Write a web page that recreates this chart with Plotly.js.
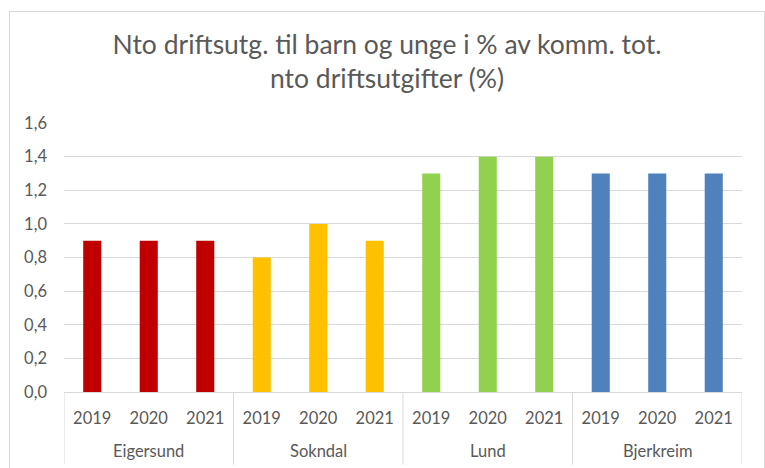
<!DOCTYPE html>
<html>
<head>
<meta charset="utf-8">
<script src="https://cdn.plot.ly/plotly-3.0.1.min.js"></script>
<style>
html,body{margin:0;padding:0;background:#fff;}
#wrap{position:relative;width:765px;height:468px;overflow:hidden;}
#chart{width:765px;height:468px;}
#frame{position:absolute;left:9px;top:11px;width:754px;height:470px;border:1px solid #d9d9d9;pointer-events:none;}
</style>
</head>
<body>
<div id="wrap"><div id="chart"></div><div id="frame"></div></div>
<script>
const municipalities = ["Eigersund","Sokndal","Lund","Bjerkreim"];
const years = ["2019","2020","2021"];
const eigersund = [0.9, 0.9, 0.9];
const sokndal = [0.8, 1.0, 0.9];
const lund = [1.3, 1.4, 1.4];
const bjerkreim = [1.3, 1.3, 1.3];
const groupColors = ["#C00000","#FFC000","#92D050","#4F81BD"];
const yTicks = [0,0.2,0.4,0.6,0.8,1.0,1.2,1.4,1.6];

const series = [eigersund, sokndal, lund, bjerkreim];
const font = "Lato, 'Open Sans', 'Liberation Sans', sans-serif";
const grey = "#595959";
const lineCol = "#d9d9d9";

const data = [];
const tickvals = [], ticktext = [];
const annotations = [], shapes = [];
series.forEach((vals, i) => {
  const xs = vals.map((v, j) => i * years.length + j);
  xs.forEach((x, j) => { tickvals.push(x); ticktext.push(years[j]); });
  data.push({
    type: "bar", x: xs, y: vals, name: municipalities[i],
    marker: {color: groupColors[i], line: {width: 0}},
    width: 0.32, hoverinfo: "y"
  });
  annotations.push({
    x: i * years.length + (years.length - 1) / 2, xref: "x",
    y: -0.22, yref: "paper",
    text: municipalities[i], showarrow: false,
    font: {family: font, size: 16.5, color: grey},
    xanchor: "center", yanchor: "middle"
  });
});
for (let k = 0; k <= municipalities.length; k++) {
  shapes.push({
    type: "line", xref: "x", yref: "paper",
    x0: k * years.length - 0.5, x1: k * years.length - 0.5,
    y0: 0, y1: -0.27,
    line: {color: lineCol, width: 1}
  });
}

const layout = {
  width: 765, height: 468,
  margin: {l: 64, r: 23, t: 123, b: 76},
  paper_bgcolor: "#ffffff",
  plot_bgcolor: "#ffffff",
  showlegend: false,
  barmode: "group",
  font: {family: font, color: grey, size: 16.5},
  title: {
    text: "Nto driftsutg. til barn og unge i % av komm. tot.<br>nto driftsutgifter (%)",
    font: {family: font, size: 26.5, color: grey},
    x: 387/765, xref: "container", xanchor: "center",
    y: 1 - 54/468, yref: "container", yanchor: "top"
  },
  xaxis: {
    range: [-0.5, series.length * years.length - 0.5],
    tickvals: tickvals, ticktext: ticktext,
    showgrid: false, zeroline: false,
    showline: true, linecolor: lineCol, linewidth: 1,
    ticks: "", ticklabelstandoff: 11,
    tickfont: {family: font, size: 16.5, color: grey}
  },
  yaxis: {
    range: [0, 1.6],
    tickvals: yTicks,
    ticktext: yTicks.map(v => v.toFixed(1).replace(".", ",")),
    showgrid: true, gridcolor: lineCol, gridwidth: 1,
    zeroline: false, showline: false, ticks: "",
    ticklabelstandoff: 16,
    tickfont: {family: font, size: 16.5, color: grey}
  },
  annotations: annotations,
  shapes: shapes
};

Plotly.newPlot("chart", data, layout, {displayModeBar: false, staticPlot: true});
</script>
</body>
</html>
